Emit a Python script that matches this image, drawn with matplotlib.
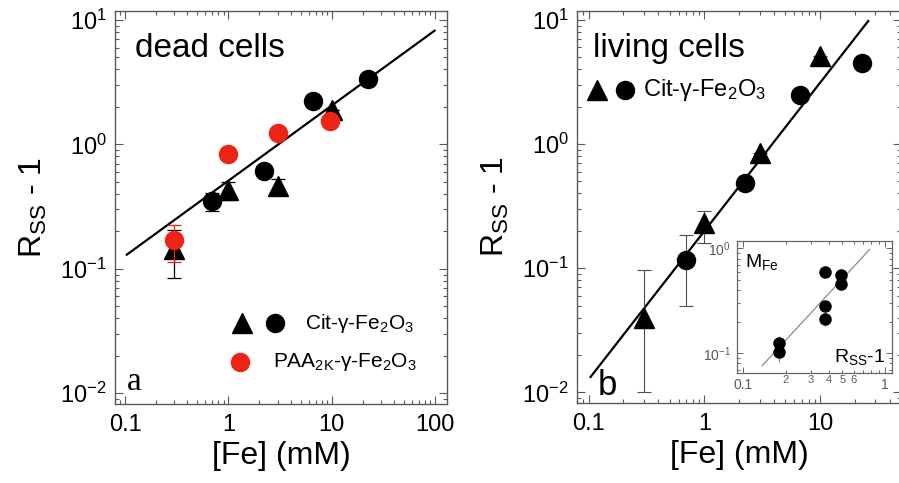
import matplotlib
matplotlib.use('Agg')
import matplotlib.pyplot as plt
from matplotlib.ticker import LogLocator, FixedLocator, FixedFormatter, NullFormatter

plt.rcParams['font.family'] = ['Liberation Sans', 'DejaVu Sans']
plt.rcParams['mathtext.fontset'] = 'custom'
plt.rcParams['mathtext.rm'] = 'Liberation Sans'
plt.rcParams['mathtext.it'] = 'Liberation Sans:italic'
plt.rcParams['mathtext.bf'] = 'Liberation Sans:bold'

# panel a: dead cells
dead_tri_x = [0.3, 1.0, 3.0, 10.0]
dead_tri_y = [0.145, 0.43, 0.46, 1.9]
dead_tri_err = [0.06, 0.07, 0.07, 0.0]
dead_circ_x = [0.7, 2.2, 6.6, 22.5]
dead_circ_y = [0.35, 0.61, 2.25, 3.35]
dead_circ_err = [0.06, 0.0, 0.0, 0.0]
paa_x = [0.3, 1.0, 3.0, 9.7]
paa_y = [0.17, 0.83, 1.23, 1.55]
paa_err = [0.057, 0.0, 0.0, 0.0]
fit_a_x = [0.104, 99.0]
fit_a_y = [0.13, 8.2]

# panel b: living cells
liv_tri_x = [0.3, 1.0, 3.0, 10.0]
liv_tri_y = [0.04, 0.23, 0.84, 5.1]
liv_tri_err_lo = [0.03, 0.07, 0.0, 0.0]
liv_tri_err_hi = [0.056, 0.06, 0.0, 0.0]
liv_circ_x = [0.7, 2.25, 6.7, 23.0]
liv_circ_y = [0.116, 0.49, 2.48, 4.5]
liv_circ_err_lo = [0.066, 0.0, 0.0, 0.0]
liv_circ_err_hi = [0.069, 0.0, 0.0, 0.0]
fit_b_x = [0.104, 26.0]
fit_b_y = [0.0133, 9.8]

# inset: M_Fe vs Rss-1
inset_x = [0.18, 0.18, 0.38, 0.38, 0.38, 0.49, 0.49]
inset_y = [0.125, 0.103, 0.6, 0.28, 0.21, 0.56, 0.46]
inset_err = [0.02, 0.02, 0.05, 0.03, 0.03, 0.04, 0.04]
inset_minor_ticks = [0.2, 0.3, 0.4, 0.5, 0.6, 0.7, 0.8, 0.9]
inset_minor_labels = ['2', '3', '4', '5', '6', '', '', '']
fit_in_x = [0.136, 0.78]
fit_in_y = [0.076, 0.98]

RED = '#ec2415'
SPINE = '0.35'
W, H = 899, 483


def px_axes(fig, left, top, right, bottom):
    return fig.add_axes([left / W, 1 - bottom / H, (right - left) / W, (bottom - top) / H])


def style_log_axes(ax, xticks, xlabels):
    ax.set_xscale('log')
    ax.set_yscale('log')
    ax.set_ylim(10 ** -2.086, 10 ** 1.072)
    ax.xaxis.set_major_locator(FixedLocator(xticks))
    ax.xaxis.set_major_formatter(FixedFormatter(xlabels))
    ax.xaxis.set_minor_locator(LogLocator(base=10, subs=range(2, 10), numticks=20))
    ax.xaxis.set_minor_formatter(NullFormatter())
    ax.yaxis.set_major_locator(LogLocator(base=10, numticks=10))
    ax.yaxis.set_minor_locator(LogLocator(base=10, subs=range(2, 10), numticks=20))
    ax.tick_params(which='both', direction='in', top=True, right=True, color=SPINE, width=0.8)
    ax.tick_params(which='major', length=6, labelsize=17, pad=7)
    ax.tick_params(which='minor', length=3)
    ax.tick_params(axis='y', which='major', pad=6)
    for s in ax.spines.values():
        s.set_color(SPINE)
        s.set_linewidth(1.0)
    ax.set_xlabel('[Fe] (mM)', fontsize=23, labelpad=4)
    ax.set_ylabel('R$_{\\mathrm{SS}}$ - 1', fontsize=23, labelpad=8)


fig = plt.figure(figsize=(W / 100, H / 100), dpi=100)

# ---- panel a
ax1 = px_axes(fig, 115, 11, 447, 404)
style_log_axes(ax1, [0.1, 1, 10, 100], ['0.1', '1', '10', '100'])
ax1.set_xlim(10 ** -1.097, 10 ** 2.116)
ax1.plot(fit_a_x, fit_a_y, color='black', lw=1.6, zorder=2)
ax1.errorbar(dead_tri_x, dead_tri_y, yerr=dead_tri_err, fmt='^', color='black',
             ms=14, elinewidth=0.9, capsize=5, capthick=0.9, zorder=3)
ax1.errorbar(dead_circ_x, dead_circ_y, yerr=dead_circ_err, fmt='o', color='black',
             ms=13, elinewidth=0.9, capsize=5, capthick=0.9, zorder=3)
ax1.errorbar(paa_x, paa_y, yerr=paa_err, fmt='o', color=RED,
             ms=13, elinewidth=0.9, capsize=5, capthick=0.9, zorder=4)

ax1.text(0.06, 0.883, 'dead cells', transform=ax1.transAxes, fontsize=24, va='baseline')
ax1.plot([0.383], [0.206], '^', color='black', ms=14, transform=ax1.transAxes)
ax1.plot([0.482], [0.206], 'o', color='black', ms=13, transform=ax1.transAxes)
ax1.text(0.572, 0.206, 'Cit-\u03b3-Fe$_2$O$_3$', transform=ax1.transAxes, fontsize=15, va='center')
ax1.plot([0.377], [0.107], 'o', color=RED, ms=13, transform=ax1.transAxes)
ax1.text(0.476, 0.107, 'PAA$_{2\\mathrm{K}}$-\u03b3-Fe$_2$O$_3$', transform=ax1.transAxes,
         fontsize=15, va='center')
ax1.text(0.036, 0.036, 'a', transform=ax1.transAxes, fontsize=24, family='Liberation Serif',
         va='baseline')

# ---- panel b
ax2 = px_axes(fig, 577, 11, 901, 403)
style_log_axes(ax2, [0.1, 1, 10], ['0.1', '1', '10'])
ax2.set_xlim(10 ** -1.1, 10 ** 1.698)
ax2.plot(fit_b_x, fit_b_y, color='black', lw=1.6, zorder=2)
ax2.errorbar(liv_tri_x, liv_tri_y, yerr=[liv_tri_err_lo, liv_tri_err_hi], fmt='^', color='black',
             ecolor='0.3', ms=14, elinewidth=0.8, capsize=5, capthick=0.8, zorder=3)
ax2.errorbar(liv_circ_x, liv_circ_y, yerr=[liv_circ_err_lo, liv_circ_err_hi], fmt='o', color='black',
             ecolor='0.3', ms=13, elinewidth=0.8, capsize=5, capthick=0.8, zorder=3)

ax2.text(0.05, 0.883, 'living cells', transform=ax2.transAxes, fontsize=24, va='baseline')
ax2.plot([0.061], [0.798], '^', color='black', ms=14, transform=ax2.transAxes)
ax2.plot([0.148], [0.798], 'o', color='black', ms=13, transform=ax2.transAxes)
ax2.text(0.205, 0.798, 'Cit-\u03b3-Fe$_2$O$_3$', transform=ax2.transAxes, fontsize=17, va='center')
ax2.text(0.065, 0.02, 'b', transform=ax2.transAxes, fontsize=25, va='baseline')

# ---- inset
axi = px_axes(fig, 736.5, 241, 892, 372.7)
axi.set_xscale('log')
axi.set_yscale('log')
axi.set_xlim(10 ** -1.047, 10 ** 0.049)
axi.set_ylim(10 ** -1.185, 10 ** 0.07)
axi.plot(fit_in_x, fit_in_y, color='0.55', lw=0.9, zorder=2)
axi.errorbar(inset_x, inset_y, yerr=inset_err, fmt='o', color='black', ecolor='0.5',
             ms=8, elinewidth=0.7, capsize=0, zorder=3)
axi.xaxis.set_major_locator(FixedLocator([0.1, 1]))
axi.xaxis.set_major_formatter(FixedFormatter(['0.1', '1']))
axi.xaxis.set_minor_locator(FixedLocator(inset_minor_ticks))
axi.xaxis.set_minor_formatter(FixedFormatter(inset_minor_labels))
axi.yaxis.set_major_locator(LogLocator(base=10, numticks=10))
axi.yaxis.set_minor_locator(LogLocator(base=10, subs=range(2, 10), numticks=20))
axi.yaxis.set_minor_formatter(NullFormatter())
axi.tick_params(which='both', direction='in', top=True, right=True, color='0.4', width=0.7,
                labelcolor='0.35')
axi.tick_params(which='major', length=4, labelsize=10, pad=4)
axi.tick_params(axis='x', which='minor', length=2, labelsize=8, pad=2)
axi.tick_params(axis='y', which='minor', length=2)
for s in axi.spines.values():
    s.set_color('0.4')
    s.set_linewidth(0.9)
axi.text(0.055, 0.805, 'M$_{\\mathrm{Fe}}$', transform=axi.transAxes, fontsize=14, va='baseline')
axi.text(0.96, 0.083, 'R$_{\\mathrm{SS}}$-1', transform=axi.transAxes, fontsize=14,
         va='baseline', ha='right')

plt.savefig('out.png', dpi=100)
